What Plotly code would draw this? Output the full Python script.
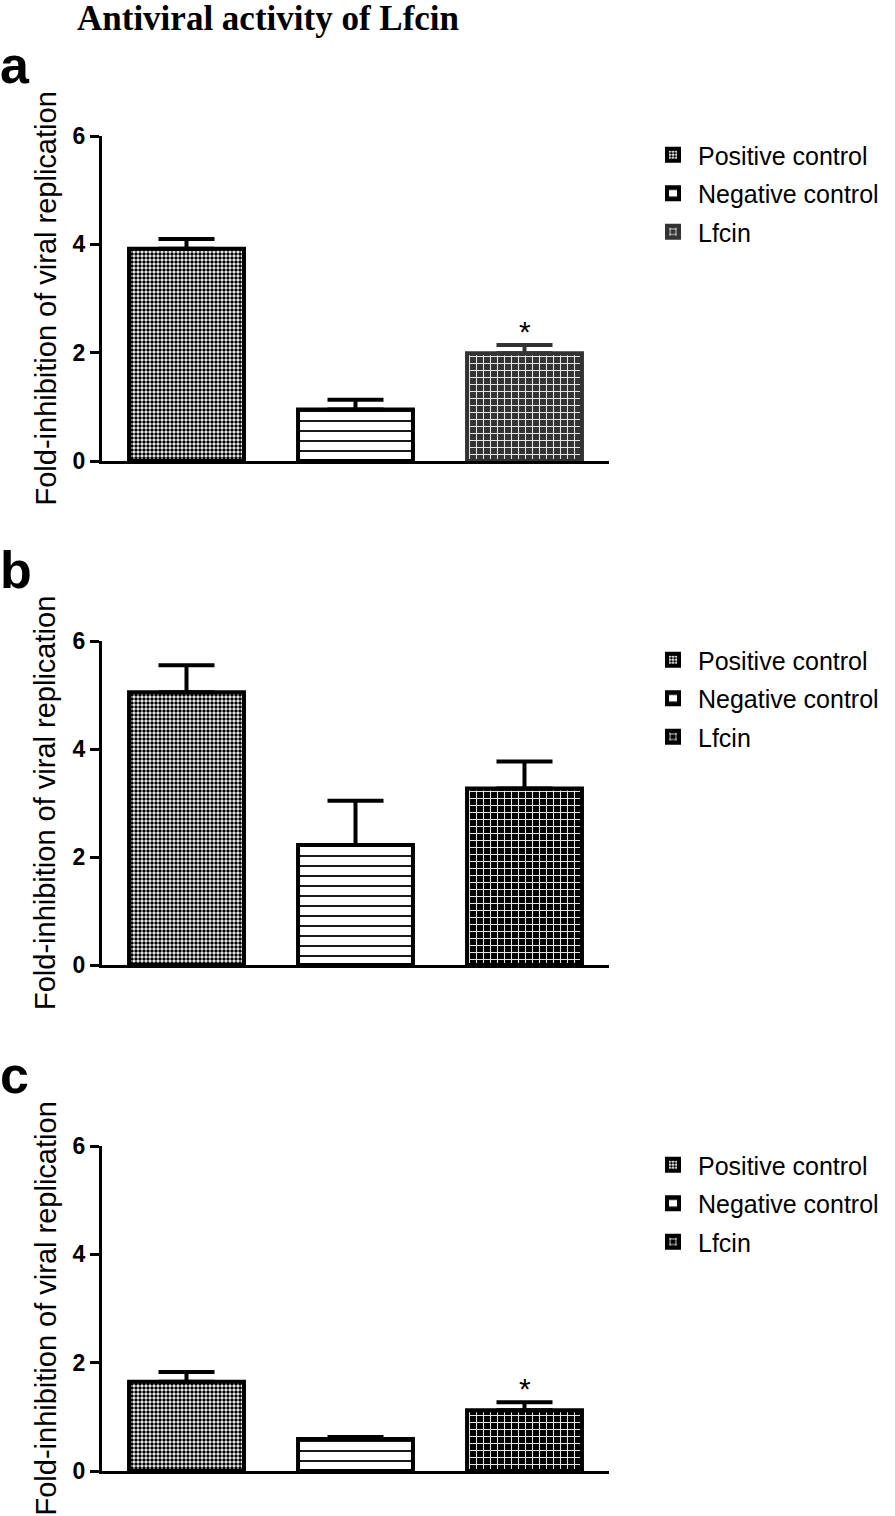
import plotly.graph_objects as go

groups = ["Positive control", "Negative control", "Lfcin"]

a_means = [3.92, 0.95, 1.99]
a_sem = [0.18, 0.18, 0.15]
a_sig = ["", "", "*"]

b_means = [5.05, 2.22, 3.27]
b_sem = [0.50, 0.82, 0.50]
b_sig = ["", "", ""]

c_means = [1.65, 0.59, 1.12]
c_sem = [0.18, 0.04, 0.15]
c_sig = ["", "", "*"]

panel_letters = ["a", "b", "c"]
y_ticks = [0, 2, 4, 6]
title_text = "Antiviral activity of Lfcin"
y_title = "Fold-inhibition of viral replication"

W, H = 895, 1516
SANS = "Liberation Sans, Arial, sans-serif"
SERIF = "Liberation Serif, Times New Roman, serif"

# plot area pixel boxes (x0, x1, ytop, ybottom)
boxes = [(102, 609, 136, 461), (102, 609, 641, 965), (102, 609, 1146, 1471)]


def px(x):
    return x / W


def py(y):
    return 1 - y / H


panels = [
    (a_means, a_sem, a_sig, "#333333"),
    (b_means, b_sem, b_sig, "#000000"),
    (c_means, c_sem, c_sig, "#000000"),
]

fig = go.Figure()
annotations = []
layout_axes = {}

for i, (means, sem, sig, lf_col) in enumerate(panels):
    n = i + 1
    xa = "x" if n == 1 else f"x{n}"
    ya = "y" if n == 1 else f"y{n}"
    leg = "legend" if n == 1 else f"legend{n}"
    styles = [
        dict(pattern=dict(shape=".", fgcolor="#000000", bgcolor="#ffffff", size=4, solidity=0.6, fillmode="replace"),
             line=dict(color="#000000", width=4), ecol="#000000"),
        dict(pattern=dict(shape="-", fgcolor="#000000", bgcolor="#ffffff", size=10, solidity=0.18, fillmode="replace"),
             line=dict(color="#000000", width=4), ecol="#000000"),
        dict(pattern=dict(shape="+", fgcolor="#e6e6e6", bgcolor=lf_col, size=7, solidity=0.28, fillmode="replace"),
             line=dict(color=lf_col, width=4), ecol=lf_col),
    ]
    for k, g in enumerate(groups):
        st = styles[k]
        fig.add_trace(go.Bar(
            x=[g], y=[means[k]],
            name=g,
            width=0.68,
            xaxis=xa, yaxis=ya,
            legend=leg,
            legendgroup=f"{n}-{k}",
            marker=dict(color=st["pattern"]["bgcolor"], pattern=st["pattern"], line=st["line"]),
            error_y=dict(type="data", symmetric=False, array=[sem[k]], arrayminus=[0],
                         color=st["ecol"], thickness=4, width=28),
            showlegend=True,
        ))
        if sig[k]:
            annotations.append(dict(
                x=g, y=means[k] + sem[k], xref=xa, yref=ya,
                text=sig[k], showarrow=False, yanchor="bottom", yshift=-5,
                font=dict(family=SANS, size=30, color="#000000"),
            ))

    x0, x1, yt, yb = boxes[i]
    xkey = "xaxis" if n == 1 else f"xaxis{n}"
    ykey = "yaxis" if n == 1 else f"yaxis{n}"
    layout_axes[xkey] = dict(
        domain=[px(x0), px(x1)], anchor=ya, type="category",
        categoryorder="array", categoryarray=groups,
        range=[-0.5, 2.5], showticklabels=False, ticks="",
        showgrid=False, zeroline=False, showline=True, linecolor="#000000", linewidth=3,
    )
    layout_axes[ykey] = dict(
        domain=[py(yb), py(yt)], anchor=xa, range=[0, 6],
        tickvals=y_ticks, ticks="outside", ticklen=9, tickwidth=2.5, tickcolor="#000000",
        tickfont=dict(family=SANS, size=23, color="#000000", weight="bold"),
        showgrid=False, zeroline=False, showline=True, linecolor="#000000", linewidth=3,
    )
    # y title
    annotations.append(dict(
        x=px(45), y=0.5, xref="paper", yref=f"{ya} domain",
        text=y_title, textangle=-90, showarrow=False, xanchor="center", yanchor="middle",
        font=dict(family=SANS, size=29, color="#000000"),
    ))
    # panel letter
    annotations.append(dict(
        x=px(-2), y=py(yt - 40), xref="paper", yref="paper",
        text=f"<b>{panel_letters[i]}</b>", showarrow=False, xanchor="left", yanchor="bottom",
        font=dict(family=SANS, size=52, color="#000000"),
    ))
    layout_axes[leg] = dict(
        x=px(648), y=py(yt - 4), xanchor="left", yanchor="top",
        font=dict(family=SANS, size=25, color="#000000"),
        bgcolor="rgba(0,0,0,0)", itemwidth=40, tracegroupgap=3,
        traceorder="grouped",
    )

annotations.append(dict(
    x=px(268), y=1, xref="paper", yref="paper",
    text=f"<b>{title_text}</b>", showarrow=False, xanchor="center", yanchor="top",
    yshift=3,
    font=dict(family=SERIF, size=35, color="#000000"),
))

fig.update_layout(
    width=W, height=H,
    margin=dict(l=0, r=0, t=0, b=0, autoexpand=False),
    paper_bgcolor="#ffffff", plot_bgcolor="#ffffff",
    barmode="overlay",
    annotations=annotations,
    **layout_axes,
)

fig.write_html("out.html", config={"displayModeBar": False},
               post_script="document.body.style.margin='0';document.body.style.overflow='hidden';")
